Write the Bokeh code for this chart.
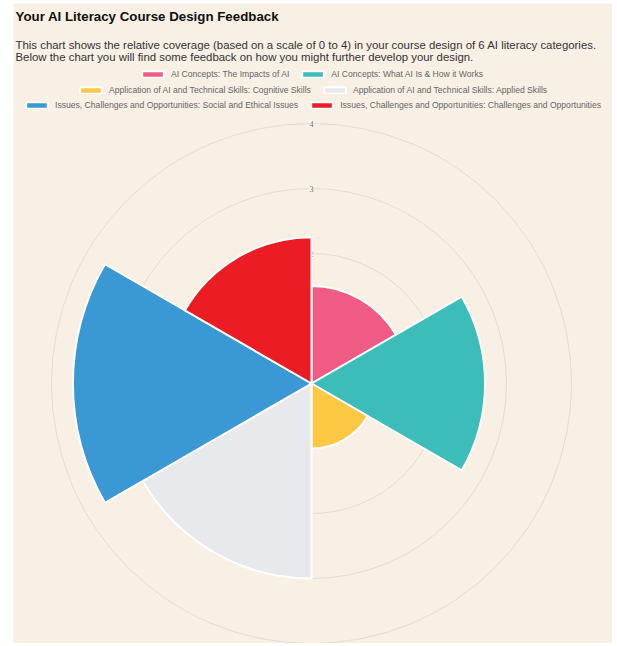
import math
from bokeh.plotting import figure
from bokeh.models import (ColumnDataSource, Label, LabelSet, Legend, LegendItem, Range1d)
from bokeh.embed import file_html
from bokeh.resources import INLINE

# ---- data ----
categories = [
    "AI Concepts: The Impacts of AI",
    "AI Concepts: What AI Is & How it Works",
    "Application of AI and Technical Skills: Cognitive Skills",
    "Application of AI and Technical Skills: Applied Skills",
    "Issues, Challenges and Opportunities: Social and Ethical Issues",
    "Issues, Challenges and Opportunities: Challenges and Opportunities",
]
scores = [1.5, 2.67, 1.0, 3.0, 3.67, 2.25]
colors = ["#ef5b84", "#3dbdb9", "#fdc944", "#e8e9ed", "#3a99d4", "#ec1c24"]
tick_values = [1, 2, 3, 4]
tick_labels = ["1", "2", "3", "4"]

title_text = "Your AI Literacy Course Design Feedback"
desc_lines = [
    "This chart shows the relative coverage (based on a scale of 0 to 4) in your course design of 6 AI literacy categories.",
    "Below the chart you will find some feedback on how you might further develop your design.",
]

# ---- layout ----
W, H = 612, 643
LEFT, TOP = 13, 3
FW, FH = W - LEFT, H - TOP
PX_PER_UNIT = 65.0
CX, CY = 298.0, 380.0  # centre in frame px (from frame top-left)

p = figure(width=W, height=H, output_backend="svg", toolbar_location=None,
           x_range=Range1d(-CX / PX_PER_UNIT, (FW - CX) / PX_PER_UNIT),
           y_range=Range1d(-(FH - CY) / PX_PER_UNIT, CY / PX_PER_UNIT),
           min_border_left=LEFT, min_border_right=0, min_border_top=TOP, min_border_bottom=0)
p.axis.visible = False
p.grid.visible = False
p.outline_line_color = None
p.background_fill_color = "#f8efe5"
p.border_fill_color = "white"


def sy(page_y):
    """page y (from top) -> frame screen y (from bottom)"""
    return FH - (page_y - TOP)


def sx(page_x):
    return page_x - LEFT


# grid rings
rings = p.circle(x=[0] * len(tick_values), y=[0] * len(tick_values), radius=tick_values,
                 fill_color=None, line_color="#e4dcd2", line_width=1)
rings.level = "underlay"

tick_src = ColumnDataSource(dict(x=[0] * len(tick_values), y=tick_values, t=tick_labels))
ticks = LabelSet(x="x", y="y", text="t", source=tick_src, text_align="center",
                 text_baseline="middle", text_font_size="8px", text_color="#666666",
                 text_font="Liberation Sans",
                 background_fill_color="white", background_fill_alpha=0.75, level="underlay")
p.add_layout(ticks)

# wedges (clockwise from top)
n = len(scores)
step = 2 * math.pi / n
src = ColumnDataSource(dict(
    r=scores,
    start=[math.pi / 2 - (i + 1) * step for i in range(n)],
    end=[math.pi / 2 - i * step for i in range(n)],
    color=colors,
    name=categories,
))
wedges = p.wedge(x=0, y=0, radius="r", start_angle="start", end_angle="end",
                 direction="anticlock", fill_color="color", line_color="white",
                 line_width=2, source=src)

# legend rows (Chart.js style, centred rows)
rows = [(0, 1, 139, 74), (2, 3, 77, 90), (4, 5, 23, 105)]
for a, b, x0, yc in rows:
    items = [LegendItem(label=categories[a], renderers=[wedges], index=a),
             LegendItem(label=categories[b], renderers=[wedges], index=b)]
    lh = 10
    leg = Legend(items=items, orientation="horizontal",
                 location=(sx(x0), sy(yc) - lh / 2),
                 glyph_width=27, glyph_height=8, label_height=lh, label_standoff=5,
                 spacing=10, padding=0, margin=0,
                 label_text_font_size="8.6px", label_text_color="#666666",
                 label_text_font="Liberation Sans",
                 background_fill_alpha=0, border_line_color=None)
    p.add_layout(leg)

# title and description
p.add_layout(Label(x=sx(15), y=sy(16), x_units="screen", y_units="screen", text=title_text,
                   text_font="Liberation Sans", text_font_style="bold", text_font_size="13.3px",
                   text_color="#111111", text_baseline="middle"))
for i, line in enumerate(desc_lines):
    p.add_layout(Label(x=sx(15), y=sy(44.5 + 11.5 * i), x_units="screen", y_units="screen",
                       text=line, text_font="Liberation Sans", text_font_size="11.4px",
                       text_color="#333333", text_baseline="middle"))

open("out.html", "w").write(file_html(p, INLINE))
